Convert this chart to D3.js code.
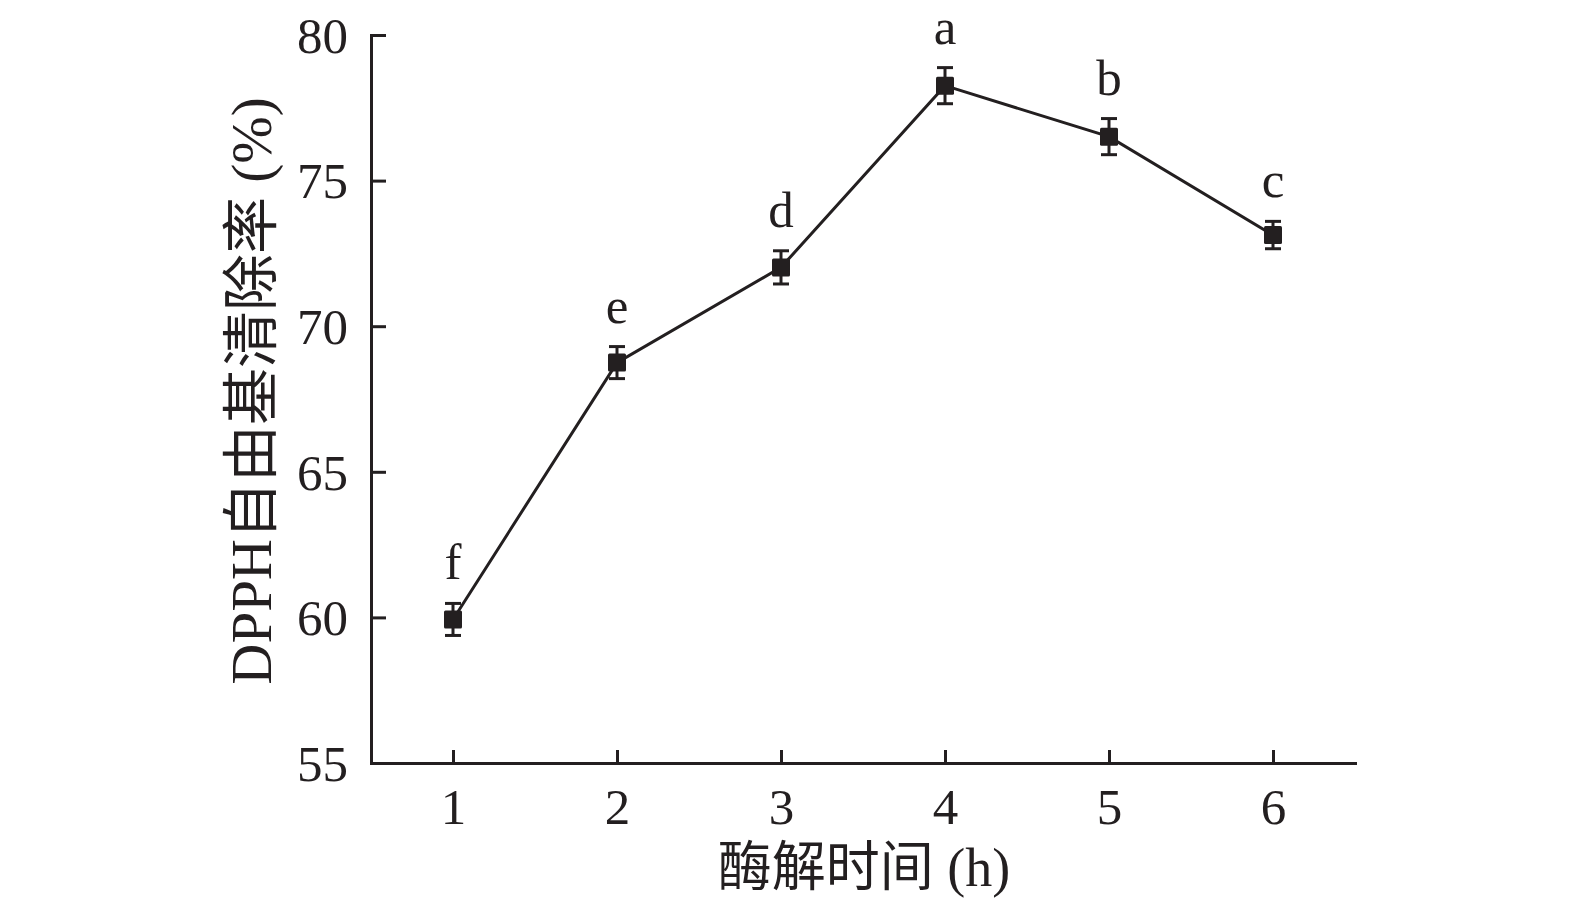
<!DOCTYPE html>
<html>
<head>
<meta charset="utf-8">
<script src="https://cdn.jsdelivr.net/npm/d3@7"></script>
<style>
  body { margin: 0; background: #fff; }
  svg text { font-family: "Liberation Serif", "Noto Sans CJK SC", serif; fill: #231f20; }
</style>
</head>
<body>
<svg id="chart" width="1575" height="906"></svg>
<script>
// enzymolysis time (h)
var hours = [1, 2, 3, 4, 5, 6];
// DPPH radical scavenging rate (%)
var rates = [59.93, 68.75, 72.02, 78.26, 76.51, 73.13];
var errs = [0.55, 0.55, 0.57, 0.62, 0.62, 0.47];
var letters = ["f", "e", "d", "a", "b", "c"];
var yTicks = [55, 60, 65, 70, 75, 80];

var ink = "#231f20";
var svg = d3.select("#chart");

var x = d3.scaleLinear().domain([0.5, 6.5]).range([371, 1355]);
var y = d3.scaleLinear().domain([55, 80]).range([763, 35]);

// axes, ticks pointing inwards
var xAxis = svg.append("g")
    .attr("transform", "translate(0," + y(55) + ")")
    .call(d3.axisBottom(x).tickValues(hours).tickSizeInner(-13).tickSizeOuter(0).tickPadding(24).tickFormat(d3.format("d")));
var yAxis = svg.append("g")
    .attr("transform", "translate(" + x(0.5) + ",0)")
    .call(d3.axisLeft(y).tickValues(yTicks).tickSizeInner(-15).tickSizeOuter(0).tickPadding(23));

[xAxis, yAxis].forEach(function(ax) {
  ax.select(".domain").attr("stroke", ink).attr("stroke-width", 3).attr("stroke-linecap", "square");
  ax.selectAll(".tick line").attr("stroke", ink).attr("stroke-width", 3);
  ax.selectAll(".tick text").attr("font-size", 51).attr("font-family", "Liberation Serif").attr("fill", ink);
});
xAxis.selectAll(".tick text").attr("dy", "0.72em");
yAxis.selectAll(".tick text").attr("dy", "0.34em");

var pts = hours.map(function(h, i) { return {h: h, v: rates[i], e: errs[i], l: letters[i]}; });

// connecting line
svg.append("path")
    .datum(pts)
    .attr("fill", "none")
    .attr("stroke", ink)
    .attr("stroke-width", 3)
    .attr("d", d3.line().x(function(d) { return x(d.h); }).y(function(d) { return y(d.v); }));

// error bars
var eb = svg.append("g").attr("stroke", ink).attr("stroke-width", 3);
pts.forEach(function(d) {
  var cx = x(d.h), top = y(d.v + d.e), bot = y(d.v - d.e);
  eb.append("line").attr("x1", cx).attr("x2", cx).attr("y1", top).attr("y2", bot);
  eb.append("line").attr("x1", cx - 8).attr("x2", cx + 8).attr("y1", top).attr("y2", top);
  eb.append("line").attr("x1", cx - 8).attr("x2", cx + 8).attr("y1", bot).attr("y2", bot);
});

// square markers
svg.append("g").selectAll("rect")
    .data(pts)
  .enter().append("rect")
    .attr("x", function(d) { return x(d.h) - 9; })
    .attr("y", function(d) { return y(d.v) - 9; })
    .attr("width", 18)
    .attr("height", 18)
    .attr("rx", 1.5)
    .attr("fill", ink);

// significance letters
svg.append("g").selectAll("text")
    .data(pts)
  .enter().append("text")
    .attr("x", function(d) { return x(d.h); })
    .attr("y", function(d) { return y(d.v + d.e) - 24; })
    .attr("text-anchor", "middle")
    .attr("font-size", 51)
    .text(function(d) { return d.l; });

// axis titles
svg.append("text")
    .attr("x", 864)
    .attr("y", 886)
    .attr("text-anchor", "middle")
    .attr("font-size", 54)
    .text("酶解时间 (h)");

svg.append("text")
    .attr("transform", "translate(251,391) rotate(-90)")
    .attr("text-anchor", "middle")
    .attr("dominant-baseline", "central")
    .attr("font-size", 57)
    .text("DPPH自由基清除率 (%)");
</script>
</body>
</html>
